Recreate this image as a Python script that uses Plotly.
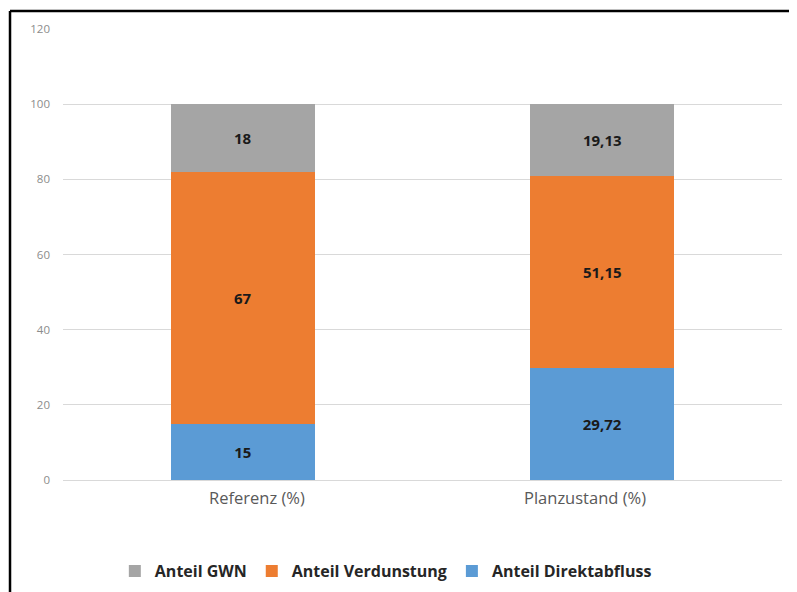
import plotly.graph_objects as go

categories = ["Referenz (%)", "Planzustand (%)"]
direktabfluss = [15, 29.72]
verdunstung = [67, 51.15]
gwn = [18, 19.13]
y_ticks = [0, 20, 40, 60, 80, 100, 120]

def fmt(v):
    return str(v).replace(".", ",")

series = [
    ("Anteil Direktabfluss", direktabfluss, "#5B9BD5"),
    ("Anteil Verdunstung", verdunstung, "#ED7D31"),
    ("Anteil GWN", gwn, "#A5A5A5"),
]

fig = go.Figure()
for name, vals, col in series:
    fig.add_trace(go.Bar(
        x=categories, y=vals, name=name,
        marker=dict(color=col, line=dict(width=0)),
        text=[fmt(v) for v in vals],
        texttemplate="<b>%{text}</b>",
        textposition="inside", insidetextanchor="middle",
        textfont=dict(family="Open Sans", size=15, color="#1a1a1a"),
        textangle=0,
    ))

label_shifts = [14, -17]
annotations = [
    dict(x=c, y=0, xref="x", yref="y", text=c, showarrow=False,
         xanchor="center", yanchor="middle", xshift=s, yshift=-17,
         font=dict(family="Open Sans", size=16.5, color="#595959"))
    for c, s in zip(categories, label_shifts)
]

fig.update_layout(
    width=789, height=584,
    barmode="stack", bargap=0.6,
    plot_bgcolor="white", paper_bgcolor="white",
    margin=dict(l=55, r=15, t=21, b=112, autoexpand=False),
    font=dict(family="Open Sans", color="#595959"),
    showlegend=True,
    legend=dict(orientation="h", traceorder="reversed",
                x=0.449, xanchor="center", y=-0.2018, yanchor="middle",
                font=dict(family="Open Sans", size=16, color="#262626", weight="bold"),
                itemwidth=30),
    xaxis=dict(showgrid=False, showline=False, ticks="", showticklabels=False,
               automargin=False),
    yaxis=dict(range=[0, 120], tickvals=y_ticks, showgrid=True,
               gridcolor="#D9D9D9", gridwidth=1, zeroline=True,
               zerolinecolor="#D9D9D9", zerolinewidth=1,
               tickfont=dict(size=11.5, color="#8c8c8c"),
               ticklabelstandoff=12, automargin=False),
    annotations=annotations,
    shapes=[
        dict(type="line", xref="paper", yref="paper",
             x0=-0.0737, x1=1.03, y0=1.04, y1=1.04,
             line=dict(color="black", width=2.5)),
        dict(type="line", xref="paper", yref="paper",
             x0=-0.0737, x1=-0.0737, y0=1.04, y1=-0.3,
             line=dict(color="black", width=2.5)),
    ],
)

fig.write_html("out.html")
